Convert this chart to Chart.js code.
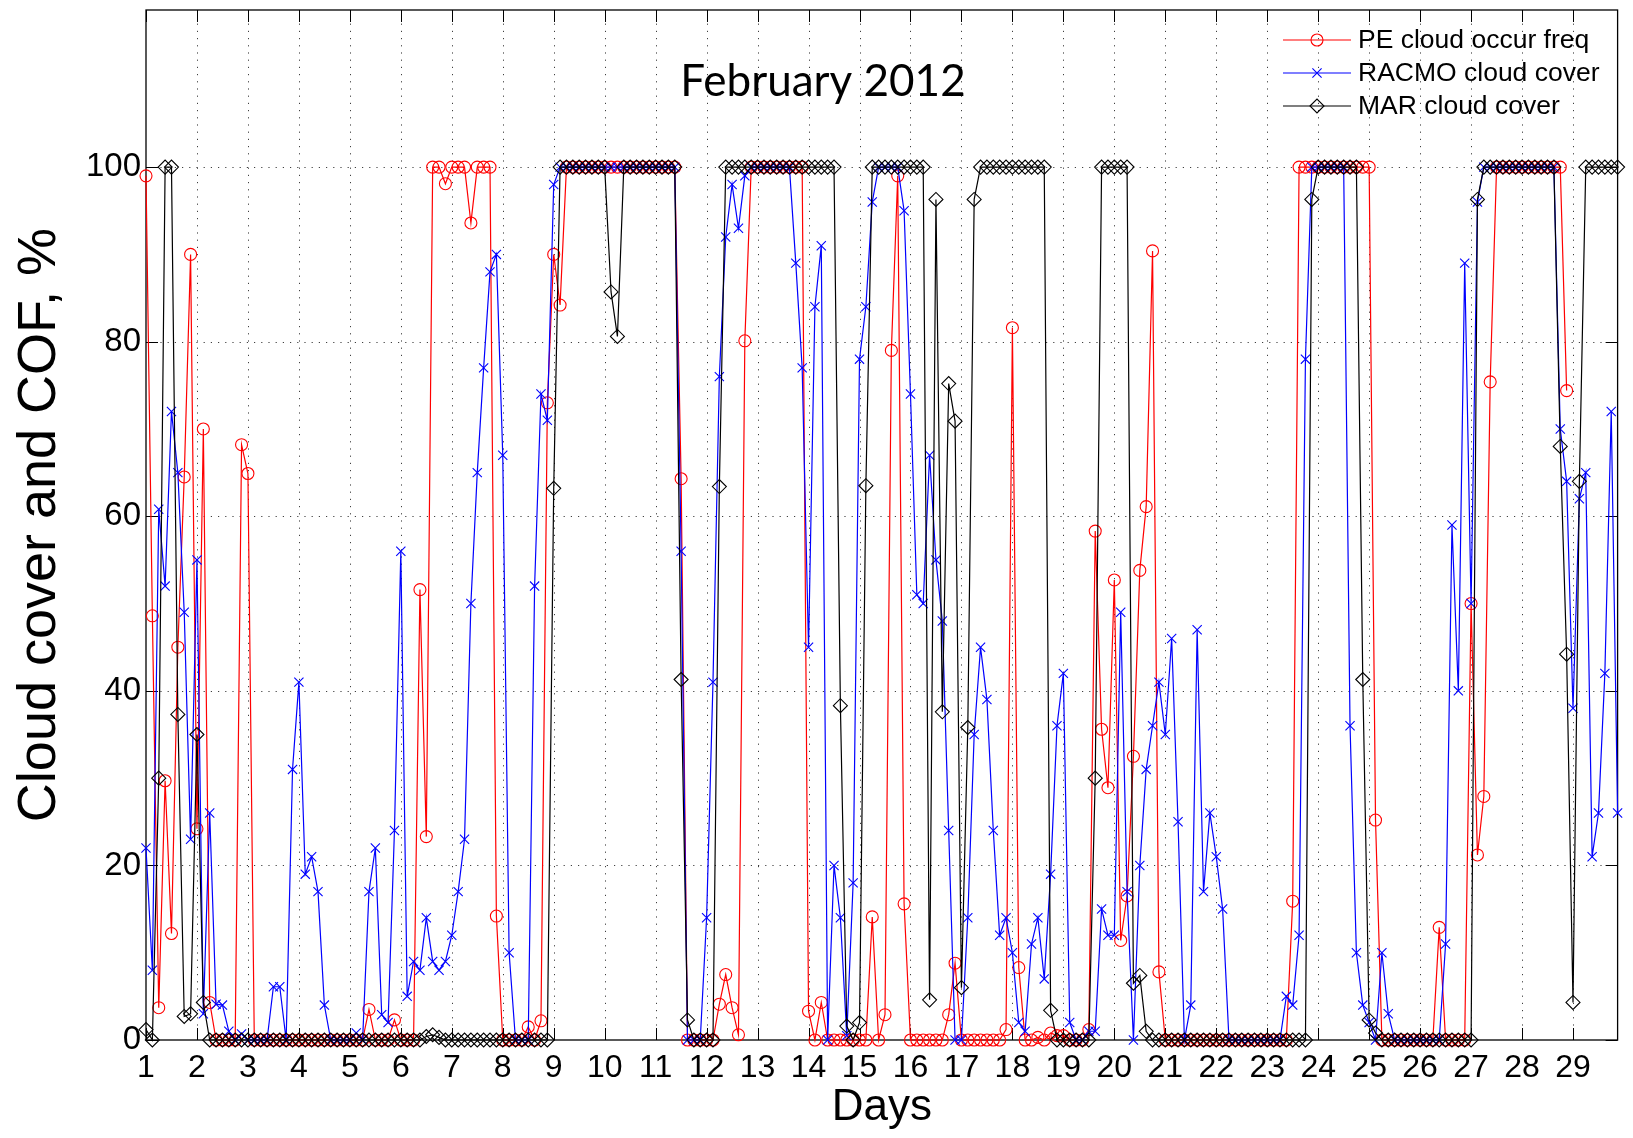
<!DOCTYPE html>
<html>
<head>
<meta charset="utf-8">
<script src="https://cdn.jsdelivr.net/npm/chart.js@4.4.1/dist/chart.umd.min.js"></script>
<style>
  html, body { margin: 0; padding: 0; background: #fff; }
  #wrap { width: 1633px; height: 1138px; }
</style>
</head>
<body>
<div id="wrap"><canvas id="c" width="1633" height="1138"></canvas></div>
<script>
// Time axis: 3-hourly samples starting on day 1
const firstDay = 1;
const stepsPerDay = 8;
const lastDay = 29.875;
const dayTicks = [1,2,3,4,5,6,7,8,9,10,11,12,13,14,15,16,17,18,19,20,21,22,23,24,25,26,27,28,29];
const yTicks = [0, 20, 40, 60, 80, 100];
const titleText = 'February 2012';
const seriesNames = ['PE cloud occur freq', 'RACMO cloud cover', 'MAR cloud cover'];

// PE cloud occurrence frequency, % (one row per day)
const peCOF = [
  99, 48.6, 3.7, 29.7, 12.2, 45, 64.5, 90,
  24.2, 70, 4.3, 0, 0, 0, 0, 68.2,
  64.9, 0, 0, 0, 0, 0, 0, 0,
  0, 0, 0, 0, 0, 0, 0, 0,
  0, 0, 0, 3.5, 0, 0, 0, 2.3,
  0, 0, 0, 51.6, 23.3, 100, 100, 98.1,
  100, 100, 100, 93.6, 100, 100, 100, 14.2,
  0, 0, 0, 0, 1.5, 0, 2.2, 73,
  90, 84.2, 100, 100, 100, 100, 100, 100,
  100, 100, 100, 100, 100, 100, 100, 100,
  100, 100, 100, 100, 64.3, 0, 0, 0,
  0, 0, 4.1, 7.5, 3.7, 0.6, 80.1, 100,
  100, 100, 100, 100, 100, 100, 100, 100,
  3.3, 0, 4.3, 0, 0, 0, 0, 0,
  0, 0, 14.1, 0, 2.9, 79, 99, 15.6,
  0, 0, 0, 0, 0, 0, 2.9, 8.8,
  0, 0, 0, 0, 0, 0, 0, 1.2,
  81.6, 8.3, 0, 0, 0.3, 0, 0.8, 0.5,
  0.5, 0, 0, 0, 1.2, 58.3, 35.6, 28.9,
  52.7, 11.4, 16.5, 32.5, 53.8, 61.1, 90.4, 7.8,
  0, 0, 0, 0, 0, 0, 0, 0,
  0, 0, 0, 0, 0, 0, 0, 0,
  0, 0, 0, 0, 15.9, 100, 100, 100,
  100, 100, 100, 100, 100, 100, 100, 100,
  100, 25.2, 0, 0, 0, 0, 0, 0,
  0, 0, 0, 12.9, 0, 0, 0, 0,
  50, 21.2, 27.9, 75.4, 100, 100, 100, 100,
  100, 100, 100, 100, 100, 100, 100, 74.4,
  null, null, null, null, null, null, null, null
];

// RACMO cloud cover, %
const racmoCover = [
  22, 8, 60.8, 52, 72, 65, 49, 23,
  55, 3, 26, 4.1, 4, 1, 0, 0.7,
  0, 0, 0, 0, 6.1, 6.1, 0, 31,
  41, 19, 21, 17, 4, 0, 0, 0,
  0, 0.8, 0, 17, 22, 2.9, 2, 24,
  56, 5, 9, 8, 14, 9, 8, 9,
  12, 17, 23, 50, 65, 77, 88, 90,
  67, 10, 0, 0, 0, 52, 74, 71,
  98, 100, 100, 100, 100, 100, 100, 100,
  100, 100, 100, 100, 100, 100, 100, 100,
  100, 100, 100, 100, 56, 0, 0, 0,
  14, 41, 76, 92, 98, 93, 99, 100,
  100, 100, 100, 100, 100, 100, 89, 77,
  45, 84, 91, 0, 20, 14, 0.5, 18,
  78, 84, 96, 100, 100, 100, 100, 95,
  74, 51, 50, 67, 55, 48, 24, 0,
  0, 14, 35, 45, 39, 24, 12, 14,
  10, 2, 1, 11, 14, 7, 19, 36,
  42, 2, 0, 0, 1, 1, 15, 12,
  12, 49, 17, 0, 20, 31, 36, 41,
  35, 46, 25, 0, 4, 47, 17, 26,
  21, 15, 0, 0, 0, 0, 0, 0,
  0, 0, 0, 5, 4, 12, 78, 100,
  100, 100, 100, 100, 100, 36, 10, 4,
  2, 0, 10, 3, 0, 0, 0, 0,
  0, 0, 0, 0, 11, 59, 40, 89,
  50, 96, 100, 100, 100, 100, 100, 100,
  100, 100, 100, 100, 100, 100, 70, 64,
  38, 62, 65, 21, 26, 42, 72, 26
];

// MAR cloud cover, %
const marCover = [
  1.2, 0, 30, 100, 100, 37.3, 2.7, 3,
  35, 4.3, 0, 0, 0, 0, 0, 0,
  0, 0, 0, 0, 0, 0, 0, 0,
  0, 0, 0, 0, 0, 0, 0, 0,
  0, 0, 0, 0, 0, 0, 0, 0,
  0, 0, 0, 0, 0.4, 0.6, 0.3, 0,
  0, 0, 0, 0, 0, 0, 0, 0,
  0, 0, 0, 0, 0, 0, 0, 0,
  63.2, 100, 100, 100, 100, 100, 100, 100,
  100, 85.7, 80.6, 100, 100, 100, 100, 100,
  100, 100, 100, 100, 41.3, 2.3, 0, 0,
  0, 0, 63.4, 100, 100, 100, 100, 100,
  100, 100, 100, 100, 100, 100, 100, 100,
  100, 100, 100, 100, 100, 38.3, 1.6, 0,
  2, 63.5, 100, 100, 100, 100, 100, 100,
  100, 100, 100, 4.6, 96.3, 37.6, 75.2, 70.9,
  6, 35.8, 96.3, 100, 100, 100, 100, 100,
  100, 100, 100, 100, 100, 100, 3.4, 0,
  0, 0, 0, 0, 0, 30, 100, 100,
  100, 100, 100, 6.5, 7.4, 1, 0, 0,
  0, 0, 0, 0, 0, 0, 0, 0,
  0, 0, 0, 0, 0, 0, 0, 0,
  0, 0, 0, 0, 0, 0, 0, 96.3,
  100, 100, 100, 100, 100, 100, 100, 41.3,
  2.3, 0.8, 0, 0, 0, 0, 0, 0,
  0, 0, 0, 0, 0, 0, 0, 0,
  0, 96.3, 100, 100, 100, 100, 100, 100,
  100, 100, 100, 100, 100, 100, 68, 44.2,
  4.3, 64, 100, 100, 100, 100, 100, 100
];

const toPoints = arr => arr.map((v, i) => ({ x: firstDay + i / stepsPerDay, y: v }));

const FONT = "'Liberation Sans', Arial, Helvetica, sans-serif";
Chart.defaults.font.family = FONT;
Chart.defaults.color = '#000';

const styles = [
  { color: '#ff0000', marker: 'circle', radius: 6 },
  { color: '#0000ff', marker: 'crossRot', radius: 6.5 },
  { color: '#000000', marker: 'rectRot', radius: 7 }
];

function drawMarker(ctx, kind, x, y, r, color) {
  ctx.save();
  ctx.strokeStyle = color;
  ctx.lineWidth = 1.1;
  ctx.beginPath();
  if (kind === 'circle') {
    ctx.arc(x, y, r, 0, Math.PI * 2);
  } else if (kind === 'rectRot') {
    ctx.moveTo(x - r, y); ctx.lineTo(x, y - r); ctx.lineTo(x + r, y); ctx.lineTo(x, y + r); ctx.closePath();
  } else {
    const d = r * Math.SQRT1_2;
    ctx.moveTo(x - d, y - d); ctx.lineTo(x + d, y + d);
    ctx.moveTo(x + d, y - d); ctx.lineTo(x - d, y + d);
  }
  ctx.stroke();
  ctx.restore();
}

// Dotted grid, axes box and inward tick marks
const framePlugin = {
  id: 'frame',
  beforeDatasetsDraw(chart) {
    const { ctx, chartArea: a, scales: { x, y } } = chart;
    ctx.save();
    ctx.strokeStyle = 'rgba(0,0,0,0.75)';
    ctx.lineWidth = 1;
    ctx.setLineDash([1.2, 6]);
    dayTicks.forEach(d => {
      const px = Math.round(x.getPixelForValue(d)) + 0.5;
      if (px <= a.left + 1 || px >= a.right - 1) return;
      ctx.beginPath(); ctx.moveTo(px, a.bottom); ctx.lineTo(px, a.top); ctx.stroke();
    });
    yTicks.forEach(v => {
      const py = Math.round(y.getPixelForValue(v)) + 0.5;
      if (py >= a.bottom - 1 || py <= a.top + 1) return;
      ctx.beginPath(); ctx.moveTo(a.left, py); ctx.lineTo(a.right, py); ctx.stroke();
    });
    ctx.setLineDash([]);
    ctx.strokeStyle = '#000';
    ctx.lineWidth = 1.3;
    ctx.strokeRect(a.left, a.top, a.right - a.left, a.bottom - a.top);
    ctx.lineWidth = 1;
    const tl = 12;
    dayTicks.forEach(d => {
      const px = Math.round(x.getPixelForValue(d)) + 0.5;
      ctx.beginPath();
      ctx.moveTo(px, a.bottom); ctx.lineTo(px, a.bottom - tl);
      ctx.moveTo(px, a.top); ctx.lineTo(px, a.top + tl);
      ctx.stroke();
    });
    yTicks.forEach(v => {
      const py = Math.round(y.getPixelForValue(v)) + 0.5;
      ctx.beginPath();
      ctx.moveTo(a.left, py); ctx.lineTo(a.left + tl, py);
      ctx.moveTo(a.right, py); ctx.lineTo(a.right - tl, py);
      ctx.stroke();
    });
    ctx.restore();
  },
  afterDraw(chart) {
    const { ctx } = chart;
    // title inside the axes
    ctx.save();
    ctx.fillStyle = '#000';
    ctx.font = "44px Lato, 'Open Sans', sans-serif";
    ctx.textAlign = 'center';
    ctx.textBaseline = 'alphabetic';
    ctx.fillText(titleText, 823, 96);
    ctx.restore();
    // legend in the upper right corner
    const rows = [40, 73, 106];
    const x0 = 1283, x1 = 1351, tx = 1358;
    ctx.save();
    chart.data.datasets.forEach((ds, i) => {
      const y = rows[i];
      const s = styles[i];
      ctx.strokeStyle = s.color;
      ctx.lineWidth = 1.2;
      ctx.beginPath(); ctx.moveTo(x0, y); ctx.lineTo(x1, y); ctx.stroke();
      drawMarker(ctx, s.marker, (x0 + x1) / 2, y, s.radius, s.color);
      ctx.fillStyle = '#000';
      ctx.font = '26.5px ' + FONT;
      ctx.textAlign = 'left';
      ctx.textBaseline = 'middle';
      ctx.fillText(ds.label, tx, y + 1);
    });
    ctx.restore();
  }
};

const makeDataset = (label, arr, s, order) => ({
  label,
  data: toPoints(arr),
  borderColor: s.color,
  borderWidth: 1.2,
  pointStyle: s.marker,
  pointRadius: s.radius,
  pointBorderColor: s.color,
  pointBackgroundColor: 'rgba(0,0,0,0)',
  pointBorderWidth: 1.1,
  pointHoverRadius: s.radius,
  tension: 0,
  spanGaps: false,
  clip: false,
  order
});

new Chart(document.getElementById('c'), {
  type: 'line',
  data: {
    datasets: [
      makeDataset(seriesNames[0], peCOF, styles[0], 3),
      makeDataset(seriesNames[1], racmoCover, styles[1], 2),
      makeDataset(seriesNames[2], marCover, styles[2], 1)
    ]
  },
  options: {
    responsive: false,
    animation: false,
    events: [],
    layout: { padding: { top: 10, right: 15.4, left: 0, bottom: 0 } },
    plugins: { legend: { display: false }, tooltip: { enabled: false }, title: { display: false } },
    scales: {
      x: {
        type: 'linear',
        min: firstDay,
        max: lastDay,
        afterBuildTicks: s => { s.ticks = dayTicks.map(v => ({ value: v })); },
        afterFit: s => { s.height = 98; s.paddingLeft = 0; s.paddingRight = 0; },
        grid: { display: false, drawTicks: false },
        border: { display: false },
        ticks: { font: { size: 32 }, color: '#000', padding: 9, maxRotation: 0, autoSkip: false,
                 callback: v => String(v) },
        title: { display: true, text: 'Days', font: { size: 44 }, color: '#000', padding: { top: 0, bottom: 4 } }
      },
      y: {
        min: 0,
        max: 118,
        afterBuildTicks: s => { s.ticks = yTicks.map(v => ({ value: v })); },
        afterFit: s => { s.width = 146; s.paddingTop = 0; s.paddingBottom = 0; },
        grid: { display: false, drawTicks: false },
        border: { display: false },
        ticks: { font: { size: 33 }, color: '#000', padding: 5, callback: v => String(v) },
        title: { display: true, text: 'Cloud cover and COF, %', font: { size: 54 }, color: '#000', padding: { top: 8, bottom: 0 } }
      }
    }
  },
  plugins: [framePlugin]
});
</script>
</body>
</html>
